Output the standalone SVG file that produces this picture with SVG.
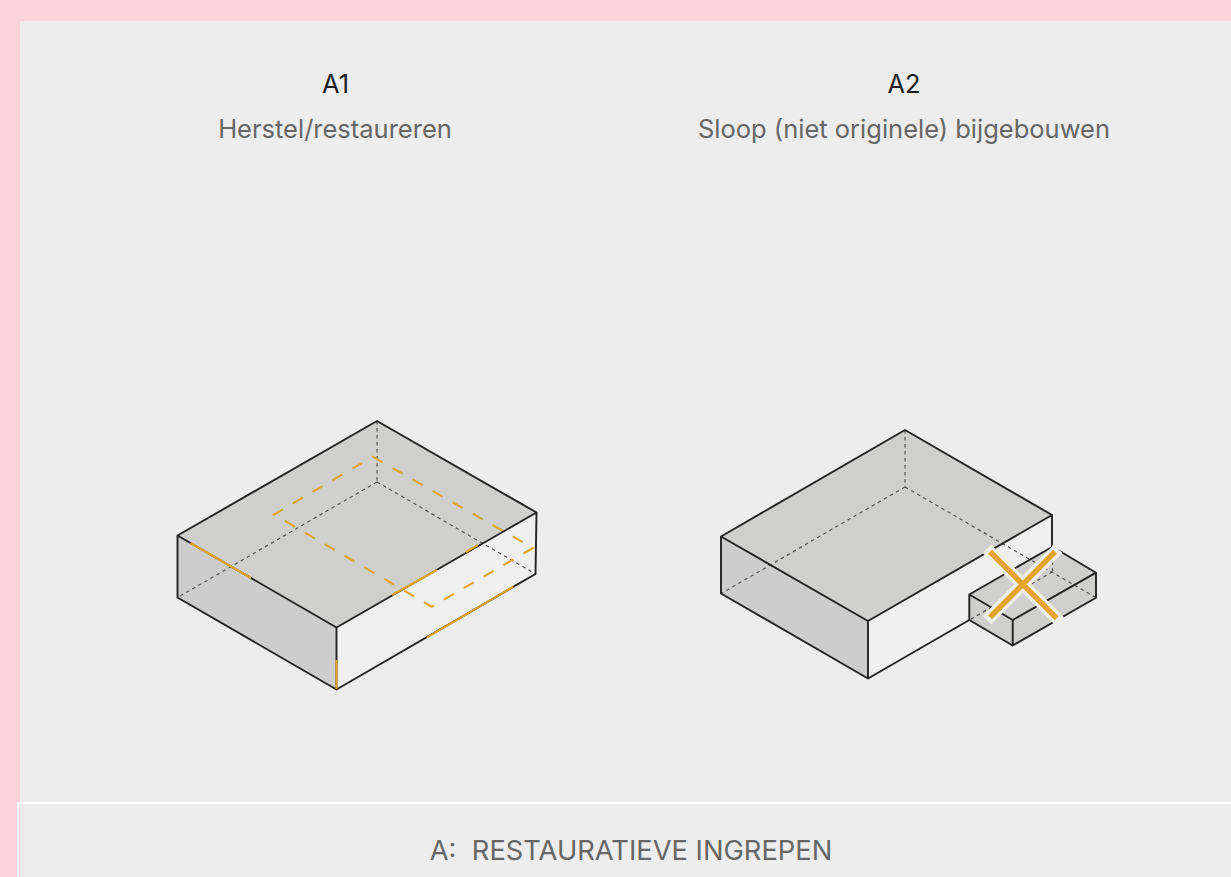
<svg xmlns="http://www.w3.org/2000/svg" width="1231" height="877" viewBox="0 0 1231 877">
<style>
.t{font-family:Inter,"Liberation Sans",sans-serif;text-anchor:middle}
.h{font-size:25.4px;fill:#1d1d1d}
.s{font-size:25.5px;fill:#666}
.g{fill:#cfcfcd;stroke:none}
.l{fill:none;stroke:#222;stroke-width:1.9;stroke-linejoin:round;stroke-linecap:round}
.d{fill:none;stroke:#555;stroke-width:1.2;stroke-dasharray:3.5 3.5}
.o{fill:none;stroke:#e3a42a;stroke-width:2.100}
</style>
<rect width="1231" height="877" fill="#fbd3dc"/>
<rect x="20" y="21" width="1211" height="856" fill="#ededed"/>
<g id="footer">
<path d="M18 877V803H1231" fill="none" stroke="#fff" stroke-width="2"/>
<text class="t" x="631" y="859.500" xml:space="preserve" style="font-size:27.3px;fill:#666;white-space:pre">A:  RESTAURATIEVE INGREPEN</text>
</g>
<g id="a1-labels">
<text class="t h" x="335.500" y="93">A1</text>
<text class="t s" x="335" y="138">Herstel/restaureren</text>
</g>
<g id="a2-labels">
<text class="t h" x="904" y="93">A2</text>
<text class="t s" x="904" y="138">Sloop (niet originele) bijgebouwen</text>
</g>
<g id="a1">
<path d="M336.500 627.500L536.500 512.500L535.500 574L336.500 689.500Z" fill="#efefef"/>
<path class="g" d="M377 421L536.500 512.500L336.500 627.500L177.500 535.500Z"/>
<path d="M177.500 535.500L336.500 627.500V689.500L177.500 597.500Z" fill="#cdcdcd"/>
<path class="d" d="M377 421V482M377 482L177.500 597.500M377 482L535.500 574"/>
<path class="o" stroke-dasharray="11.500 11.500" d="M372.700 456.700L533 548L431.700 606.700L274 514.500Z"/>
<path class="l" d="M377 421L536.500 512.500L535.500 574L336.500 689.500L177.500 597.500V535.500ZM177.500 535.500L336.500 627.500L536.500 512.500M336.500 627.500V689.500"/>
<path class="o" stroke-width="2.200" d="M190.500 543L251 578M392 595L437 570M466 552L478 545M426.700 637.700L513.300 586.700M336.500 660V689"/>
</g>
<g id="a2">
<path d="M868 621L1052 515V547L969.300 594.500V620L868 678.500Z" fill="#efefef"/>
<path class="g" d="M905 430L1052 515L868 621L721 536.500Z"/>
<path d="M721 536.500L868 621V678.500L721 593.500Z" fill="#cdcdcd"/>
<path class="g" d="M969.300 594.500L1052.500 546.700L1096 572.700V597.700L1012.700 645.500L969.300 620Z"/>
<path class="d" d="M905 430V487M905 487L721 593.500M905 487L1096 597.700M1052.500 547V571.700M1052.500 571.700L969.300 620"/>
<path class="l" d="M905 430L1052 515L868 621L721 536.500ZM721 536.500V593.500L868 678.500V621M868 678.500L969.300 620M1052 515V547"/>
<path class="l" d="M969.300 594.500L1052.500 546.700L1096 572.700L1012.700 620ZM969.300 594.500V620L1012.700 645.500L1096 597.700V572.700M1012.700 620V645.500"/>
</g>
<g id="a2-cross">
<path d="M987 548.700L1059.700 621.300M1058 548.700L987 620.300" fill="none" stroke="#eeeeec" stroke-width="12"/>
<path d="M990 551.700L1056.700 618.300M1055 551.700L990 617.300" fill="none" stroke="#e3a42a" stroke-width="5.500"/>
</g>
</svg>
